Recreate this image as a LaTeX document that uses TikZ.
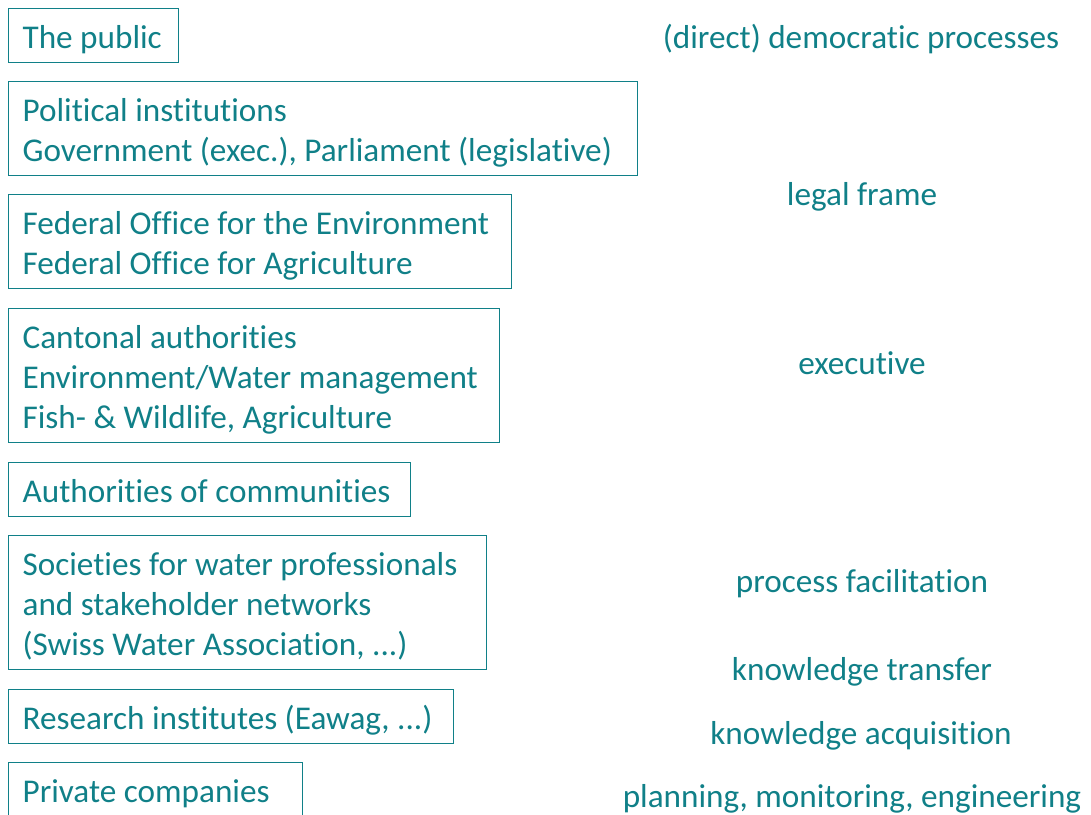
\documentclass[tikz,border=0pt]{standalone}
\usepackage{fontspec}
\setmainfont{Carlito}[Ligatures=NoCommon]
\definecolor{petrol}{RGB}{16,128,136}
\begin{document}
\begin{tikzpicture}[x=1pt,y=-1pt,
		box/.style={draw=petrol,line width=1.2pt,anchor=north west,align=flush left,inner xsep=14pt,inner ysep=11pt,text height=28.5pt,text depth={3.5pt+40pt*(#1-1)}},
		role/.style={anchor=center,inner sep=0pt,text height=26pt,text depth=6pt}]
	\useasboundingbox (0,0) rectangle (1091,814);
	\tikzset{every node/.style={text=petrol,font=\fontsize{33.2}{40}\selectfont}}
	%Institutions on the left
	\node[box=1,text width=142pt] (public) at (8,8) {The public};
	\node[box=2,text width=601pt] (politics) at (8,81) {Political institutions\\Government (exec.), Parliament (legislative)};
	\node[box=2,text width=475pt] (federal) at (8,194) {Federal Office for the Environment\\Federal Office for Agriculture};
	\node[box=3,text width=463pt] (canton) at (8,308) {Cantonal authorities\\Environment/Water management\\Fish- \& Wildlife, Agriculture};
	\node[box=1,text width=374pt] (commune) at (8,462) {Authorities of communities};
	\node[box=3,text width=450pt] (society) at (8,535) {Societies for water professionals\\and stakeholder networks\\(Swiss Water Association, ...)};
	\node[box=1,text width=417pt] (research) at (8,689) {Research institutes (Eawag, ...)};
	\node[box=1,text width=266pt] (private) at (8,762) {Private companies};
	%Roles on the right
	\node[role] (democracy) at (861,38) {(direct) democratic processes};
	\node[role] (legal) at (862,195) {legal frame};
	\node[role] (exec) at (862,364) {executive};
	\node[role] (facil) at (862,582) {process facilitation};
	\node[role] (transfer) at (862,670) {knowledge transfer};
	\node[role] (acquis) at (861,734) {knowledge acquisition};
	\node[role] (planning) at (852,797.5) {planning, monitoring, engineering};
\end{tikzpicture}
\end{document}
